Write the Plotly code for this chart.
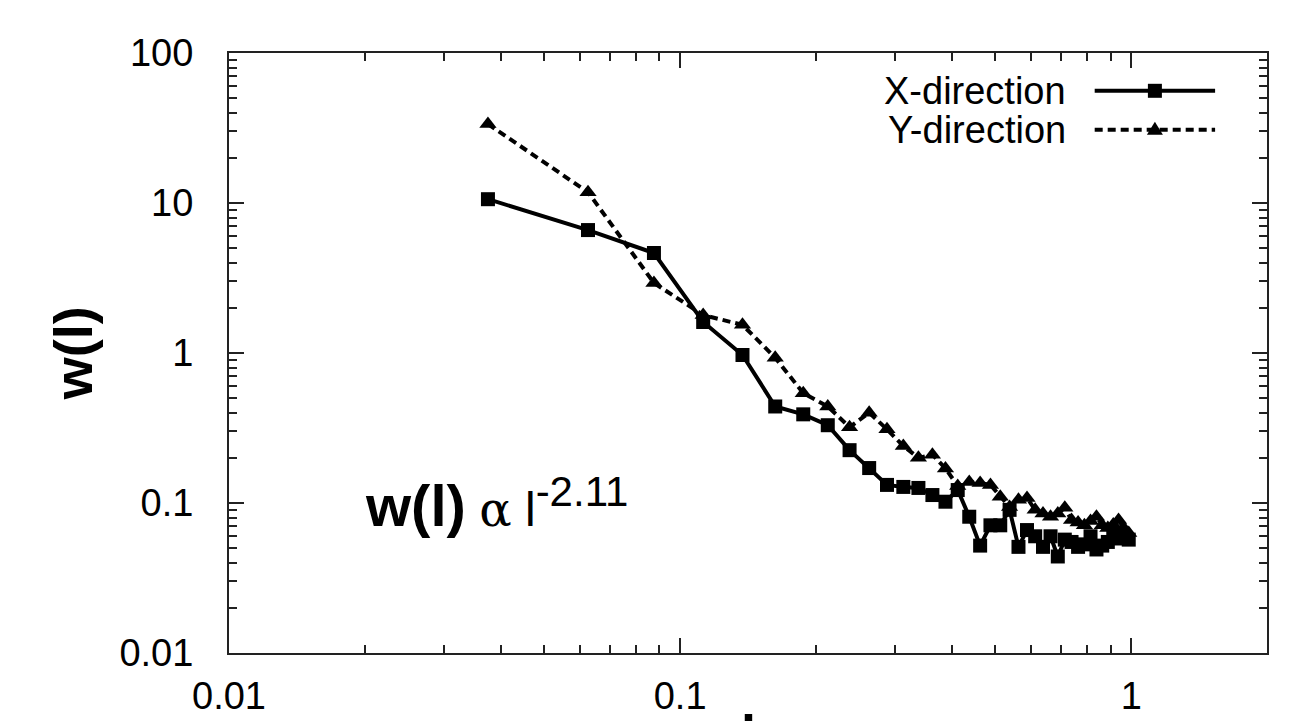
import math
import plotly.graph_objects as go

# ---------------- data ----------------
l_vals = [0.0375, 0.0625, 0.0875, 0.1125, 0.1375, 0.1625, 0.1875, 0.2125, 0.2375, 0.2625,
          0.2875, 0.3125, 0.3375, 0.3625, 0.3875, 0.4125, 0.4375, 0.4625, 0.4875, 0.5125,
          0.5375, 0.5625, 0.5875, 0.6125, 0.6375, 0.6625, 0.6875, 0.7125, 0.7375, 0.7625,
          0.7875, 0.8125, 0.8375, 0.8625, 0.8875, 0.9125, 0.9375, 0.9625, 0.9875]

w_x_dir = [10.6, 6.6, 4.64, 1.61, 0.97, 0.44, 0.39, 0.33, 0.225, 0.171,
           0.132, 0.128, 0.126, 0.113, 0.102, 0.122, 0.081, 0.052, 0.071, 0.071,
           0.090, 0.051, 0.066, 0.060, 0.051, 0.060, 0.044, 0.057, 0.055, 0.051,
           0.053, 0.060, 0.049, 0.052, 0.055, 0.062, 0.058, 0.060, 0.057]

w_y_dir = [33.6, 11.8, 2.93, 1.79, 1.54, 0.93, 0.54, 0.44, 0.32, 0.40,
           0.31, 0.24, 0.20, 0.21, 0.17, 0.13, 0.138, 0.136, 0.132, 0.11,
           0.094, 0.105, 0.108, 0.090, 0.085, 0.081, 0.085, 0.093, 0.077, 0.074,
           0.071, 0.076, 0.081, 0.071, 0.068, 0.072, 0.077, 0.068, 0.063]

series_names = ["X-direction", "Y-direction"]

x_tick_vals = [0.01, 0.1, 1]
x_tick_text = ["0.01", "0.1", "1"]
x_minor_vals = [0.02, 0.03, 0.04, 0.05, 0.06, 0.07, 0.08, 0.09,
                0.2, 0.3, 0.4, 0.5, 0.6, 0.7, 0.8, 0.9]
y_tick_vals = [0.01, 0.1, 1, 10, 100]
y_tick_text = ["0.01", "0.1", "1", "10", "100"]
y_minor_vals = [m * 10 ** e for e in (-2, -1, 0, 1) for m in range(2, 10)]

x_range = [0.01, 2]
y_range = [0.01, 100]

y_title = "w(l)"
x_title = "l"
fit_label = ("<span style='font-size:58px'><b>w(l)</b></span> "
             "<span style='font-family:DejaVu Serif, serif'>α</span> l"
             "<sup><span style='font-size:42px'>-2.11</span></sup>")

FONT = "Liberation Sans, Arial, Helvetica, sans-serif"

fig = go.Figure()

fig.add_trace(go.Scatter(
    x=l_vals, y=w_x_dir, mode="lines+markers", name=series_names[0],
    line=dict(color="black", width=4),
    marker=dict(symbol="square", size=14, color="black"),
    showlegend=False,
))
fig.add_trace(go.Scatter(
    x=l_vals, y=w_y_dir, mode="lines+markers", name=series_names[1],
    line=dict(color="black", width=4, dash="8px,5px"),
    marker=dict(symbol="triangle-up", size=15, color="black"),
    showlegend=False,
))

axis_common = dict(
    type="log", showgrid=False, zeroline=False,
    showline=True, linecolor="#222", linewidth=2, mirror="allticks",
    ticks="inside", ticklen=15, tickwidth=1.5, tickcolor="#222",
    tickfont=dict(family=FONT, size=38, color="black"),
    automargin=False,
)

fig.update_layout(
    width=1306, height=721,
    margin=dict(l=229, r=39, t=53, b=68),
    paper_bgcolor="white", plot_bgcolor="white",
    font=dict(family=FONT, color="black"),
    xaxis=dict(
        **axis_common,
        range=[math.log10(v) for v in x_range],
        tickmode="array", tickvals=x_tick_vals, ticktext=x_tick_text,
        ticklabelstandoff=8,
        minor=dict(tickmode="array", tickvals=x_minor_vals, ticks="inside",
                   ticklen=8, tickwidth=1.5, tickcolor="#222", showgrid=False),
    ),
    yaxis=dict(
        **axis_common,
        range=[math.log10(v) for v in y_range],
        tickmode="array", tickvals=y_tick_vals, ticktext=y_tick_text,
        ticklabelstandoff=26,
        minor=dict(tickmode="array", tickvals=y_minor_vals, ticks="inside",
                   ticklen=8, tickwidth=1.5, tickcolor="#222", showgrid=False),
    ),
    showlegend=False,
)

annotations = [
    # y-axis title
    dict(text=f"<b>{y_title}</b>", xref="paper", yref="paper",
         x=-0.15, y=0.5, xanchor="center", yanchor="middle",
         textangle=-90, showarrow=False,
         font=dict(family=FONT, size=54, color="black")),
    # x-axis title (mostly below the page edge)
    dict(text=f"<b>{x_title}</b>", xref="paper", yref="paper",
         x=0.5, y=-0.082, xanchor="center", yanchor="top",
         showarrow=False, font=dict(family=FONT, size=54, color="black")),
    # power-law label
    dict(text=fit_label, xref="paper", yref="paper",
         x=0.129, y=0.25, xanchor="left", yanchor="middle",
         showarrow=False, font=dict(family=FONT, size=48, color="black")),
]

# manual legend (text, then line sample with marker on the right)
leg_rows_y = [0.937, 0.872]
leg_text_x = 0.808
leg_line_x = [0.834, 0.950]
leg_mark_x = 0.892
shapes = []
for i, name in enumerate(series_names):
    annotations.append(dict(
        text=name, xref="paper", yref="paper", x=leg_text_x, y=leg_rows_y[i],
        xanchor="right", yanchor="middle", showarrow=False,
        font=dict(family=FONT, size=38, color="black")))
    shapes.append(dict(
        type="line", xref="paper", yref="paper",
        x0=leg_line_x[0], x1=leg_line_x[1], y0=leg_rows_y[i], y1=leg_rows_y[i],
        line=dict(color="black", width=4, dash="solid" if i == 0 else "8px,5px")))
shapes.append(dict(
    type="rect", xref="paper", yref="paper", xsizemode="pixel", ysizemode="pixel",
    xanchor=leg_mark_x, yanchor=leg_rows_y[0], x0=-7, x1=7, y0=-7, y1=7,
    fillcolor="black", line=dict(width=0)))
shapes.append(dict(
    type="path", xref="paper", yref="paper", xsizemode="pixel", ysizemode="pixel",
    xanchor=leg_mark_x, yanchor=leg_rows_y[1],
    path="M -8,-5 L 8,-5 L 0,8 Z", fillcolor="black", line=dict(width=0)))

fig.update_layout(annotations=annotations, shapes=shapes)

fig.write_html("out.html")
